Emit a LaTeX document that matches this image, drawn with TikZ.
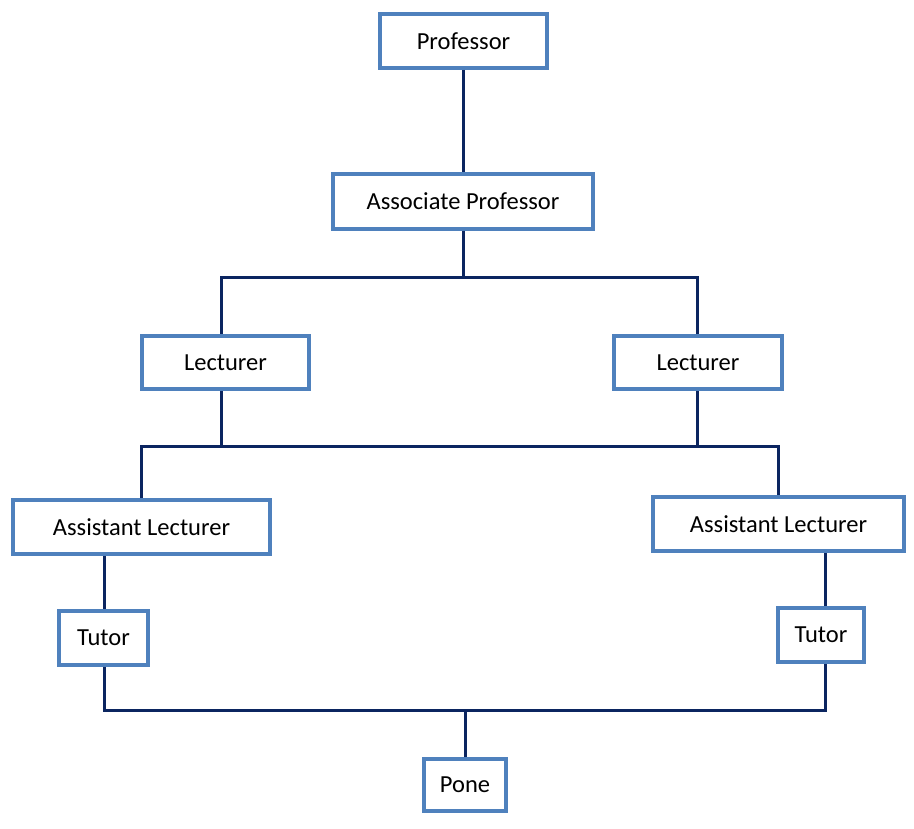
\documentclass[tikz,border=0pt]{standalone}
\usepackage{fontspec}
\setmainfont{Carlito}
\usepackage{tikz}
\usetikzlibrary{calc}

\definecolor{boxblue}{HTML}{4F81BD}
\definecolor{linknavy}{HTML}{0B2560}

\begin{document}
\begin{tikzpicture}[x=1pt,y=-1pt,
  box/.style={draw=boxblue,line width=4pt,fill=white,minimum height=54pt,
    inner sep=0pt,font=\fontsize{24.5}{28}\selectfont},
  link/.style={draw=linknavy,line width=3pt}]
\useasboundingbox (0,0) rectangle (914,829);

% 绘制各级职称方框
\node[box,minimum width=167pt] (prof) at (463.5,41) {Professor};
\node[box,minimum width=260pt,minimum height=55pt] (assoc) at (463,201.5) {Associate Professor};
\node[box,minimum width=167pt,minimum height=53pt] (lecL) at (225.5,362.5) {Lecturer};
\node[box,minimum width=168pt,minimum height=53pt] (lecR) at (698,362.5) {Lecturer};
\node[box,minimum width=257pt] (alL) at (141.5,527) {Assistant Lecturer};
\node[box,minimum width=251pt] (alR) at (778.5,524) {Assistant Lecturer};
\node[box,minimum width=89pt] (tutL) at (103.5,638) {Tutor};
\node[box,minimum width=86pt] (tutR) at (821,635) {Tutor};
\node[box,minimum width=82pt,minimum height=52pt] (pone) at (465,785) {Pone};

% 连线的分叉点
\coordinate (b1L) at (221,278);
\coordinate (b1R) at (697,278);
\coordinate (b2L) at (141,446);
\coordinate (b2R) at (778,446);
\coordinate (b3L) at (104,710);
\coordinate (b3R) at (825,710);

% 教授到副教授
\draw[link] (prof.south -| assoc.south) -- (assoc.north);
% 副教授到两位讲师
\draw[link] (assoc.south) -- (assoc.south |- b1L);
\draw[link] (lecL.north -| b1L) |- (b1R) -- (lecR.north -| b1R);
% 讲师到助理讲师
\draw[link] (lecL.south -| b1L) -- (b1L |- b2L);
\draw[link] (lecR.south -| b1R) -- (b1R |- b2R);
\draw[link] (alL.north -| b2L) |- (b2R) -- (alR.north -| b2R);
% 助理讲师到助教
\draw[link] (alL.south -| b3L) -- (tutL.north -| b3L);
\draw[link] (alR.south -| b3R) -- (tutR.north -| b3R);
% 助教汇合到最下方
\draw[link] (tutL.south -| b3L) |- (b3R) -- (tutR.south -| b3R);
\draw[link] (pone.north) -- (pone.north |- b3L);

\end{tikzpicture}
\end{document}
